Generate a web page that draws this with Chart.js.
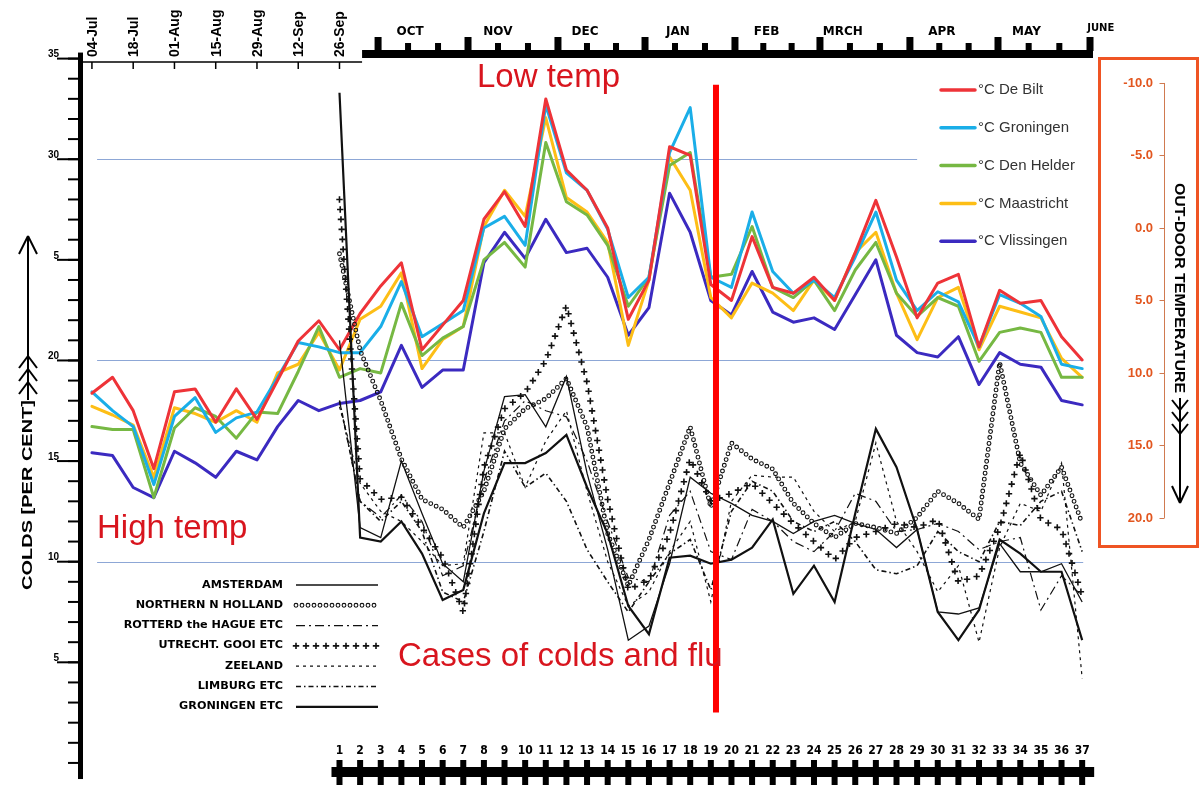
<!DOCTYPE html>
<html>
<head>
<meta charset="utf-8">
<title>Colds and out-door temperature</title>
<script src="https://cdn.jsdelivr.net/npm/chart.js@4.4.1/dist/chart.umd.min.js"></script>
<style>
html,body{margin:0;padding:0;background:#ffffff;}
canvas{display:block;}
</style>
</head>
<body>
<canvas id="chart" width="1202" height="785"></canvas>
<script>
// ---------- categories and tick labels ----------
const tempWeeks = [-11,-10,-9,-8,-7,-6,-5,-4,-3,-2,-1,0,1,2,3,4,5,6,7,8,9,10,11,12,13,14,15,16,17,18,19,20,21,22,23,24,25,26,27,28,29,30,31,32,33,34,35,36,37];
const weekNumbers = [1,2,3,4,5,6,7,8,9,10,11,12,13,14,15,16,17,18,19,20,21,22,23,24,25,26,27,28,29,30,31,32,33,34,35,36,37];
const dateTickWeeks = [-11,-9,-7,-5,-3,-1,1];
const dateTickLabels = ['04-Jul','18-Jul','01-Aug','15-Aug','29-Aug','12-Sep','26-Sep'];
const monthStarts = [2.87,7.23,11.59,15.81,20.17,24.29,28.65,32.92,37.38];
const monthLabels = ['OCT','NOV','DEC','JAN','FEB','MRCH','APR','MAY','JUNE'];
const monthLabelWeeks = [4.42,8.68,12.9,17.4,21.7,25.4,30.2,34.3,37.9];
const coldsMinorTicks = [0,1,2,3,4,5,6,7,8,9,10,11,12,13,14,15,16,17,18,19,20,21,22,23,24,25,26,27,28,29,30,31,32,33,34,35];
const coldsTickValues = [5,10,15,20,25,30,35];
const coldsTickLabels = ['5','10','15','20','5','30','35'];
const tempTickValues = [-10,-5,0,5,10,15,20];
const tempTickLabels = ['-10.0','-5.0','0.0','5.0','10.0','15.0','20.0'];

// ---------- out-door temperature, deg C (weekly, 04-Jul .. week 37) ----------
const deBilt     = [11.4,10.3,12.6,16.6,11.3,11.1,13.4,11.1,13.2,10.5,7.8,6.4,8.4,5.9,4.0,2.4,8.4,6.7,5.0,-0.6,-2.5,-0.1,-8.9,-4.0,-2.6,0.0,6.3,3.6,-5.6,-5.0,3.9,5.0,0.6,4.1,4.5,3.4,5.0,1.7,-1.9,2.0,6.2,3.8,3.2,8.2,4.3,5.2,5.0,7.5,9.1];
const groningen  = [11.3,12.6,13.7,17.7,13.0,11.7,14.1,13.1,12.7,10.3,7.9,8.2,8.6,8.6,6.8,3.7,7.5,6.6,5.7,0.0,-0.8,1.2,-8.5,-3.8,-2.6,0.1,4.8,3.4,-5.2,-8.3,3.4,4.1,-1.1,3.0,4.5,3.6,4.8,2.0,-1.1,3.6,5.7,4.4,5.1,8.2,4.6,5.2,6.1,9.4,9.7];
const denHelder  = [13.7,13.9,13.9,18.6,13.8,12.4,13.0,14.5,12.7,12.8,9.9,6.8,10.3,9.7,10.0,5.2,8.8,7.6,6.8,2.2,1.0,2.7,-5.9,-1.8,-0.9,1.2,5.4,3.4,-4.3,-5.2,3.4,3.2,-0.1,4.1,4.8,3.6,5.7,2.9,1.0,4.5,6.1,4.8,5.4,9.2,7.2,6.9,7.2,10.3,10.3];
const maastricht = [12.3,12.9,13.6,17.2,12.4,12.8,13.4,12.6,13.4,10.0,9.4,7.2,9.8,6.3,5.4,3.1,9.7,7.7,6.8,-0.1,-2.6,-0.8,-7.6,-2.1,-1.1,1.0,8.1,3.6,-4.9,-2.6,4.8,6.2,3.8,4.5,5.7,3.6,5.0,1.7,0.3,4.5,7.7,4.8,4.1,8.4,5.4,5.8,6.2,9.0,10.3];
const vlissingen = [15.5,15.7,17.9,18.6,15.4,16.2,17.2,15.4,16.0,13.7,11.9,12.6,12.1,11.9,11.3,8.1,11.0,9.8,9.8,2.4,0.3,2.1,-0.6,1.7,1.4,3.4,7.4,5.5,-2.4,0.3,5.0,6.0,3.0,5.8,6.5,6.2,7.0,4.6,2.2,7.4,8.6,8.9,7.5,10.8,8.6,9.4,9.6,11.9,12.2];

// ---------- colds, per cent (weeks 1 .. 37) ----------
const amsterdam    = [21.0,11.7,11.2,15.0,12.4,9.9,9.0,14.5,18.2,18.3,16.7,19.2,14.4,10.6,6.1,6.8,9.9,14.2,13.4,12.9,12.3,12.0,11.4,12.0,12.3,11.9,11.6,10.7,11.6,7.5,7.4,7.7,10.9,9.5,9.5,9.9,8.0];
const northernNH   = [25.3,20.5,18.0,15.1,13.1,12.6,11.7,13.5,16.6,17.6,18.1,19.1,16.7,11.4,8.8,11.1,13.9,16.7,12.7,15.9,15.1,14.6,12.9,11.9,11.2,11.9,11.7,11.4,12.2,13.5,12.9,12.1,19.9,14.9,13.3,14.7,11.9];
const rotterdam    = [18.0,13.0,12.2,13.3,12.0,9.3,9.8,14.0,17.0,18.0,17.5,17.2,15.0,12.0,9.2,9.0,12.3,13.5,10.5,10.1,12.6,12.0,11.0,10.5,11.5,13.4,13.0,11.5,11.6,11.9,11.5,10.6,11.0,11.2,7.6,9.3,8.3];
const utrecht      = [28.0,14.1,13.1,13.2,11.7,10.2,7.5,14.7,17.6,18.4,20.0,22.7,18.9,13.1,8.6,9.1,11.4,15.1,13.0,13.4,13.9,12.9,11.9,11.0,10.1,11.2,11.5,11.9,11.7,12.1,9.0,9.3,11.7,15.4,12.1,11.6,8.3];
const zeeland      = [17.7,13.9,12.5,12.0,11.0,9.8,9.9,16.4,16.4,13.7,16.0,17.5,13.5,10.0,7.8,8.5,10.5,12.0,8.0,13.0,14.3,14.2,14.2,12.5,11.5,12.0,15.9,12.0,10.5,8.5,9.8,6.0,10.7,12.9,12.5,14.9,4.2];
const limburg      = [18.0,13.0,12.0,13.0,11.5,8.5,8.0,11.5,15.5,13.7,14.4,13.0,10.6,9.0,7.5,9.0,10.4,11.1,8.6,12.5,14.0,13.5,12.0,11.5,12.0,11.0,9.6,9.4,9.8,11.5,10.5,10.0,12.0,11.8,13.0,13.5,10.5];
const groningenEtc = [33.3,11.2,11.0,12.0,10.4,8.1,8.6,12.4,14.9,14.9,15.4,16.3,13.7,11.4,7.8,6.4,10.2,10.3,9.9,10.1,10.7,12.1,8.4,9.8,8.0,12.4,16.6,14.7,11.6,7.5,6.1,7.6,11.1,10.4,9.5,9.5,6.1];

// guide lines (colds %) and the red marker week
const guideLines = [{value:30, from:-10.75, to:29.0},{value:20, from:-10.75, to:37.05},{value:10, from:-10.75, to:37.05}];
const redMarker = {week:19.25, from:2.5, to:33.7};

const toXY = (xs, ys) => xs.map((x,i)=>({x:x, y:ys[i]}));

function tempDs(label, vals, color){
  return {label, data: toXY(tempWeeks, vals), yAxisID:'y2', borderColor: color, backgroundColor: color,
    borderWidth: 3, pointRadius: 0, tension: 0, borderJoinStyle:'round', borderCapStyle:'round', order: 2, group:'temp'};
}
function coldDs(label, vals, style){
  return Object.assign({label, data: toXY(weekNumbers, vals), yAxisID:'y', borderColor:'#111', backgroundColor:'#111',
    borderWidth:1.3, pointRadius:0, tension:0, order:1, group:'colds'}, style);
}

const datasets = [
  tempDs('°C De Bilt', deBilt, '#EE3338'),
  tempDs('°C Groningen', groningen, '#1AAEE8'),
  tempDs('°C Den Helder', denHelder, '#76B843'),
  tempDs('°C Maastricht', maastricht, '#FDBE16'),
  tempDs('°C Vlissingen', vlissingen, '#3B2AC0'),
  coldDs('AMSTERDAM', amsterdam, {borderWidth:1.3}),
  coldDs('NORTHERN N HOLLAND', northernNH, {showLine:false, borderWidth:0, pathMarker:'circle'}),
  coldDs('ROTTERD the HAGUE ETC', rotterdam, {borderWidth:1.2, borderDash:[9,4,2,4]}),
  coldDs('UTRECHT. GOOI ETC', utrecht, {showLine:false, borderWidth:0, pathMarker:'cross'}),
  coldDs('ZEELAND', zeeland, {borderWidth:1.2, borderDash:[3,4]}),
  coldDs('LIMBURG ETC', limburg, {borderWidth:1.6, borderDash:[5,3,1.5,3]}),
  coldDs('GRONINGEN ETC', groningenEtc, {borderWidth:2.2})
];

// ---------- helpers ----------
function walkPath(pts, step, fn){
  let carry = 0;
  for (let k=0;k<pts.length-1;k++){
    const a=pts[k], b=pts[k+1];
    const dx=b.x-a.x, dy=b.y-a.y, len=Math.hypot(dx,dy);
    if (len===0) continue;
    let t=carry;
    while (t<=len){ fn(a.x+dx*t/len, a.y+dy*t/len); t+=step; }
    carry=t-len;
  }
}
function drawMarkers(ctx, pts, type){
  ctx.save();
  ctx.strokeStyle='#111';
  if (type==='circle'){
    ctx.lineWidth=1.1;
    walkPath(pts, 6, (x,y)=>{ ctx.beginPath(); ctx.arc(x,y,1.9,0,Math.PI*2); ctx.stroke(); });
  } else {
    ctx.lineWidth=1.6;
    walkPath(pts, 10, (x,y)=>{ ctx.beginPath(); ctx.moveTo(x-3.2,y); ctx.lineTo(x+3.2,y); ctx.moveTo(x,y-3.2); ctx.lineTo(x,y+3.2); ctx.stroke(); });
  }
  ctx.restore();
}
function text(ctx, str, x, y, o){
  ctx.save();
  ctx.translate(x,y);
  if (o.rotate) ctx.rotate(o.rotate);
  ctx.font=o.font; ctx.fillStyle=o.color||'#000';
  ctx.textAlign=o.align||'center'; ctx.textBaseline=o.baseline||'middle';
  if (o.width){ const w=ctx.measureText(str).width; ctx.scale(o.width/w,1); }
  else if (o.stretch){ ctx.scale(o.stretch,1); }
  ctx.fillText(str,0,0);
  ctx.restore();
}
function line(ctx,x1,y1,x2,y2){ ctx.beginPath(); ctx.moveTo(x1,y1); ctx.lineTo(x2,y2); ctx.stroke(); }

const decor = {
  id:'decor',
  beforeDraw(chart){
    const c=chart.ctx; c.save(); c.fillStyle='#fff'; c.fillRect(0,0,chart.width,chart.height); c.restore();
  },
  beforeDatasetsDraw(chart){
    const ctx=chart.ctx, sx=chart.scales.x, sy=chart.scales.y;
    ctx.save(); ctx.strokeStyle='#8DA7D6'; ctx.lineWidth=1.2;
    guideLines.forEach(g=>{ const y=Math.round(sy.getPixelForValue(g.value))+0.5; line(ctx, sx.getPixelForValue(g.from), y, sx.getPixelForValue(g.to), y); });
    ctx.restore();
  },
  afterDatasetsDraw(chart){
    const ctx=chart.ctx, sx=chart.scales.x, sy=chart.scales.y;
    chart.data.datasets.forEach((ds,i)=>{
      if (!ds.pathMarker) return;
      const pts=chart.getDatasetMeta(i).data.map(p=>({x:p.x,y:p.y}));
      drawMarkers(ctx, pts, ds.pathMarker);
    });
    // red vertical marker
    ctx.save(); ctx.strokeStyle='#FF0000'; ctx.lineWidth=6;
    const rx=sx.getPixelForValue(redMarker.week);
    line(ctx, rx, sy.getPixelForValue(redMarker.to), rx, sy.getPixelForValue(redMarker.from));
    ctx.restore();
  },
  afterDraw(chart){
    const ctx=chart.ctx, sx=chart.scales.x, sy=chart.scales.y, st=chart.scales.y2, area=chart.chartArea;
    ctx.save();
    ctx.fillStyle='#000'; ctx.strokeStyle='#000';

    // ---- left axis (colds %) ----
    const L=area.left;
    ctx.fillRect(L-5, sy.getPixelForValue(35.3), 5, sy.getPixelForValue(-0.8)-sy.getPixelForValue(35.3));
    ctx.lineWidth=2;
    coldsMinorTicks.forEach(v=>{ const y=sy.getPixelForValue(v); line(ctx, L-15, y, L-4, y); });
    coldsTickValues.forEach((v,i)=>{
      const y=sy.getPixelForValue(v);
      line(ctx, L-26, y, L-4, y);
      text(ctx, coldsTickLabels[i], L-24, y-4, {font:'bold 10px "Liberation Sans"', align:'right'});
    });
    text(ctx, 'COLDS [PER CENT]', 28, 495, {font:'bold 14px "Liberation Sans"', rotate:-Math.PI/2, width:190});
    ctx.lineWidth=2;
    line(ctx, 28, 236, 28, 400);
    line(ctx, 19, 254, 28, 236); line(ctx, 37, 254, 28, 236);
    [356,369,382].forEach(y=>{ line(ctx,19,y+12,28,y); line(ctx,37,y+12,28,y); });

    // ---- top axis: dates ----
    ctx.lineWidth=1.5;
    line(ctx, L-3, 62, sx.getPixelForValue(monthStarts[0])-16, 62);
    dateTickWeeks.forEach((w,i)=>{
      const x=sx.getPixelForValue(w);
      line(ctx, x, 62, x, 69);
      text(ctx, dateTickLabels[i], x+1, 57, {font:'bold 14px "Liberation Sans"', rotate:-Math.PI/2, align:'left'});
    });
    // ---- top axis: month rail ----
    const railL=sx.getPixelForValue(monthStarts[0])-16, railR=sx.getPixelForValue(monthStarts[monthStarts.length-1])+3;
    ctx.fillRect(railL, 50, railR-railL, 8);
    monthStarts.forEach((m,i)=>{
      const x=sx.getPixelForValue(m);
      ctx.fillRect(x-3.5, 37, 7, 14);
      if (i<monthStarts.length-1){
        const n=monthStarts[i+1];
        [m+(n-m)/3, m+2*(n-m)/3].forEach(s=>{ const xs=sx.getPixelForValue(s); ctx.fillRect(xs-3, 43, 6, 8); });
      }
    });
    monthLabels.forEach((lab,i)=>{
      const last = i===monthLabels.length-1;
      text(ctx, lab, sx.getPixelForValue(monthLabelWeeks[i]), last?28:32, {font:(last?'bold 10px':'bold 12px')+' "DejaVu Sans"'});
    });

    // ---- bottom axis: week numbers rail ----
    const bL=sx.getPixelForValue(weekNumbers[0])-8, bR=sx.getPixelForValue(weekNumbers[weekNumbers.length-1])+12;
    ctx.fillRect(bL, 767, bR-bL, 10);
    weekNumbers.forEach(w=>{
      const x=sx.getPixelForValue(w);
      ctx.fillRect(x-3, 760, 6, 25);
      text(ctx, String(w), x, 751, {font:'bold 12px "DejaVu Sans Condensed","DejaVu Sans"'});
    });

    // ---- right axis: temperature ----
    ctx.strokeStyle='#EF5423'; ctx.lineWidth=3;
    ctx.strokeRect(1099.5, 58.5, 98, 488);
    ctx.strokeStyle='#D07A50'; ctx.lineWidth=1;
    const ax=1164.5;
    line(ctx, ax, st.getPixelForValue(tempTickValues[0]), ax, st.getPixelForValue(tempTickValues[tempTickValues.length-1]));
    tempTickValues.forEach((t,i)=>{
      const y=Math.round(st.getPixelForValue(t))+0.5;
      line(ctx, ax-5, y, ax, y);
      text(ctx, tempTickLabels[i], 1153, y, {font:'bold 13px "Liberation Sans"', align:'right', color:'#E2561F'});
    });
    text(ctx, 'OUT-DOOR TEMPERATURE', 1179, 288, {font:'bold 15px "Liberation Sans"', rotate:Math.PI/2, width:210});
    ctx.strokeStyle='#000'; ctx.lineWidth=2;
    line(ctx, 1180, 398, 1180, 503);
    [400,412,424].forEach(y=>{ line(ctx,1172,y,1180,y+10); line(ctx,1188,y,1180,y+10); });
    line(ctx, 1172, 486, 1180, 503); line(ctx, 1188, 486, 1180, 503);

    // ---- legend: temperatures ----
    const temps=chart.data.datasets.filter(d=>d.group==='temp');
    temps.forEach((d,i)=>{
      const y=90+i*37.8;
      ctx.strokeStyle=d.borderColor; ctx.lineWidth=3.5; ctx.lineCap='round';
      line(ctx, 941, y, 975, y);
      text(ctx, d.label, 978, y, {font:'15px "Liberation Sans"', align:'left', color:'#333'});
    });
    ctx.lineCap='butt';

    // ---- legend: colds by region ----
    const colds=chart.data.datasets.filter(d=>d.group==='colds');
    colds.forEach((d,i)=>{
      const y=585+i*20.3;
      text(ctx, d.label, 283, y, {font:'bold 10px "DejaVu Sans"', align:'right', stretch:1.12});
      if (d.pathMarker){
        drawMarkers(ctx, [{x:296,y:y},{x:378,y:y}], d.pathMarker);
      } else {
        ctx.save(); ctx.strokeStyle='#111'; ctx.lineWidth=d.borderWidth; ctx.setLineDash(d.borderDash||[]);
        line(ctx, 296, y, 378, y); ctx.restore();
      }
    });

    // ---- annotations ----
    const red='#D8151E';
    text(ctx, 'Low temp', 477, 78, {font:'33px "Liberation Sans"', align:'left', color:red});
    text(ctx, 'High temp', 97, 529, {font:'33px "Liberation Sans"', align:'left', color:red});
    text(ctx, 'Cases of colds and flu', 398, 657, {font:'33px "Liberation Sans"', align:'left', color:red});
    ctx.restore();
  }
};

new Chart(document.getElementById('chart'), {
  type:'line',
  data:{datasets},
  options:{
    responsive:false, animation:false, devicePixelRatio:1, events:[],
    layout:{padding:{left:83, right:107, top:58.6, bottom:11}},
    plugins:{legend:{display:false}, tooltip:{enabled:false}, title:{display:false}},
    scales:{
      x:{type:'linear', min:-11.433, max:37.622, display:false},
      y:{type:'linear', min:-0.55, max:35, display:false},
      y2:{type:'linear', min:-11.68, max:37.66, reverse:true, display:false}
    }
  },
  plugins:[decor]
});
</script>
</body>
</html>
